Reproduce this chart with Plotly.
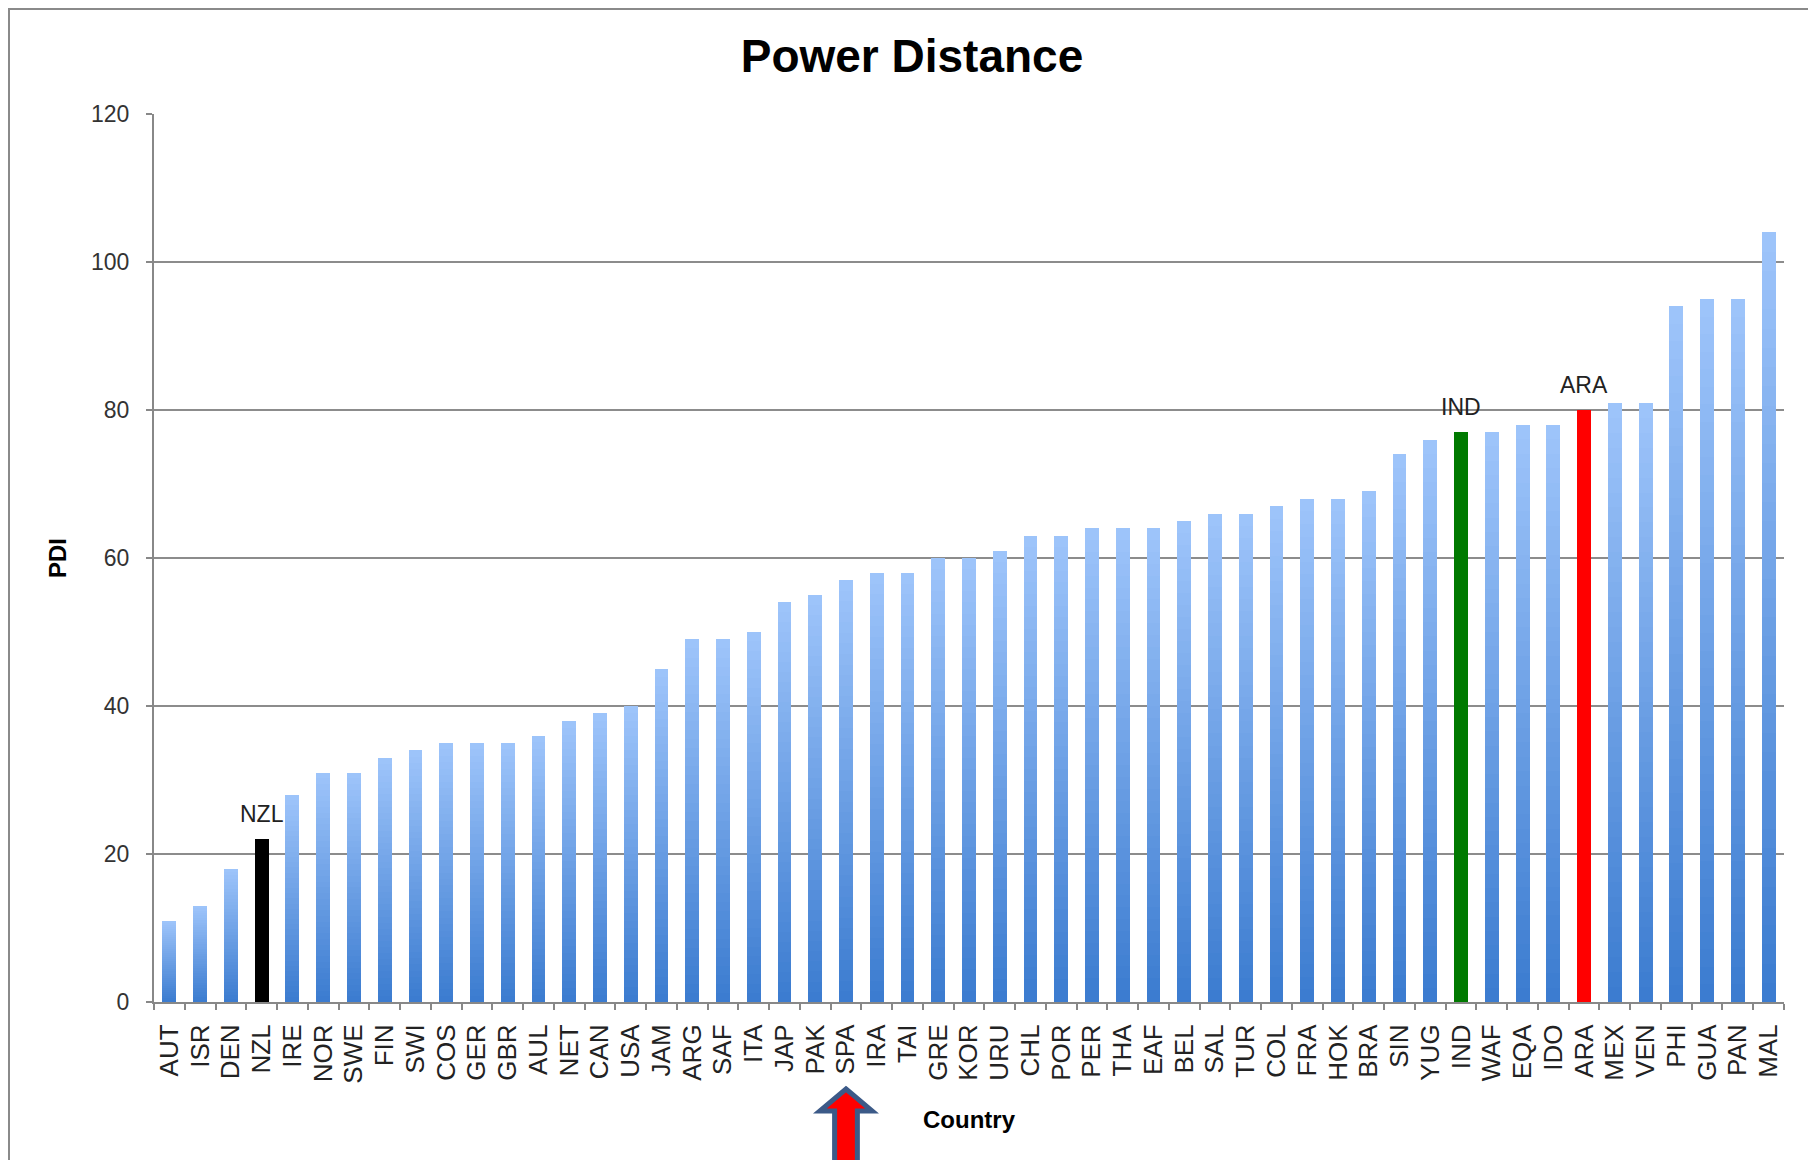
import plotly.graph_objects as go

# ---- data ----
countries = ["AUT", "ISR", "DEN", "NZL", "IRE", "NOR", "SWE", "FIN", "SWI", "COS",
             "GER", "GBR", "AUL", "NET", "CAN", "USA", "JAM", "ARG", "SAF", "ITA",
             "JAP", "PAK", "SPA", "IRA", "TAI", "GRE", "KOR", "URU", "CHL", "POR",
             "PER", "THA", "EAF", "BEL", "SAL", "TUR", "COL", "FRA", "HOK", "BRA",
             "SIN", "YUG", "IND", "WAF", "EQA", "IDO", "ARA", "MEX", "VEN", "PHI",
             "GUA", "PAN", "MAL"]
pdi = [11, 13, 18, 22, 28, 31, 31, 33, 34, 35,
       35, 35, 36, 38, 39, 40, 45, 49, 49, 50,
       54, 55, 57, 58, 58, 60, 60, 61, 63, 63,
       64, 64, 64, 65, 66, 66, 67, 68, 68, 69,
       74, 76, 77, 77, 78, 78, 80, 81, 81, 94,
       95, 95, 104]
highlight_names = ["NZL", "IND", "ARA"]
highlight_colors = ["#000000", "#007A00", "#FF0000"]
arrow_country = "SPA"
y_ticks = [0, 20, 40, 60, 80, 100, 120]

FONT = "Liberation Sans, Arial, sans-serif"
# page body has an 8px margin, so the figure is laid out 8px smaller
W, H = 1808, 1152
ML, MR, MT, MB = 146, 32, 106, 158
PW, PH = W - ML - MR, H - MT - MB

top_rgb = (157, 196, 250)
bot_rgb = (60, 124, 208)
hl = dict(zip(highlight_names, highlight_colors))

fig = go.Figure()

# per-bar vertical gradient: overlaid bars, light (full height) -> dark (short)
K = 40
for k in range(K):
    f = (K - k) / K
    t = k / (K - 1)
    c = tuple(round(top_rgb[i] + (bot_rgb[i] - top_rgb[i]) * t) for i in range(3))
    col = "rgb(%d,%d,%d)" % c
    colors = [hl.get(n, col) for n in countries]
    fig.add_trace(go.Bar(
        x=countries, y=[v * f for v in pdi],
        marker=dict(color=colors, line=dict(width=0)),
        width=0.45, hoverinfo="skip", showlegend=False,
    ))

# labels above highlighted bars
for n in highlight_names:
    i = countries.index(n)
    fig.add_annotation(x=n, y=pdi[i], xref="x", yref="y", text=n,
                       showarrow=False, yanchor="bottom", yshift=10,
                       font=dict(family=FONT, size=23, color="#222222"))

# outer frame (left, top, right)
def px_x(px):
    return (px - ML) / PW

def px_y(py):
    return (H - MB - py) / PH

frame_col = "#8a8a8a"
fig.add_shape(type="line", xref="paper", yref="paper",
              x0=px_x(0.5), x1=px_x(0.5), y0=px_y(0), y1=px_y(H + 5),
              line=dict(color=frame_col, width=3))
fig.add_shape(type="line", xref="paper", yref="paper",
              x0=px_x(0), x1=px_x(1805), y0=px_y(0.5), y1=px_y(0.5),
              line=dict(color=frame_col, width=3))
fig.add_shape(type="line", xref="paper", yref="paper",
              x0=px_x(1804), x1=px_x(1804), y0=px_y(0), y1=px_y(H + 5),
              line=dict(color="#a0a0a0", width=2))

# red arrow pointing at the arrow country label
ai = countries.index(arrow_country)
n = len(countries)
cx = (ai + 0.5) / n
hw = 0.85 / n
sw = 0.37 / n
y_tip = px_y(1081)
y_base = px_y(1103)
y_bot = px_y(H + 20)
path = (f"M {cx} {y_tip} L {cx + hw} {y_base} L {cx + sw} {y_base} L {cx + sw} {y_bot} "
        f"L {cx - sw} {y_bot} L {cx - sw} {y_base} L {cx - hw} {y_base} Z")
fig.add_shape(type="path", xref="paper", yref="paper", path=path,
              fillcolor="#FF0000", line=dict(color="#3C5A88", width=5))

fig.update_layout(
    width=W, height=H,
    margin=dict(l=ML, r=MR, t=MT, b=MB, autoexpand=False),
    paper_bgcolor="white", plot_bgcolor="white",
    barmode="overlay", bargap=0,
    title=dict(text="Power Distance", x=0.5, xref="container", xanchor="center",
               y=1 - 48 / H, yref="container", yanchor="middle",
               font=dict(family=FONT, size=46, color="#000000", weight="bold")),
    font=dict(family=FONT, color="#222222"),
)
fig.update_xaxes(
    type="category", categoryorder="array", categoryarray=countries,
    range=[-0.5, n - 0.5], tickson="boundaries",
    tickmode="linear", tick0=0, dtick=1,
    ticks="outside", ticklen=6, tickwidth=2, tickcolor="#888888",
    showline=True, linecolor="#888888", linewidth=2, showgrid=False,
    tickangle=-90, ticklabelstandoff=10,
    tickfont=dict(family=FONT, size=26, color="#222222"),
    title=dict(text="Country", standoff=29,
               font=dict(family=FONT, size=24, color="#000000", weight="bold")),
    automargin=False,
)
fig.update_yaxes(
    range=[0, 120], tickvals=y_ticks, ticktext=[str(v) for v in y_ticks],
    ticks="outside", ticklen=6, tickwidth=2, tickcolor="#888888",
    showline=True, linecolor="#888888", linewidth=2,
    showgrid=True, gridcolor="#8c8c8c", gridwidth=2,
    zeroline=False, ticklabelstandoff=12,
    tickfont=dict(family=FONT, size=23, color="#333333"),
    title=dict(text="PDI", standoff=18,
               font=dict(family=FONT, size=24, color="#000000", weight="bold")),
    automargin=False,
)

fig.write_html("out.html")
